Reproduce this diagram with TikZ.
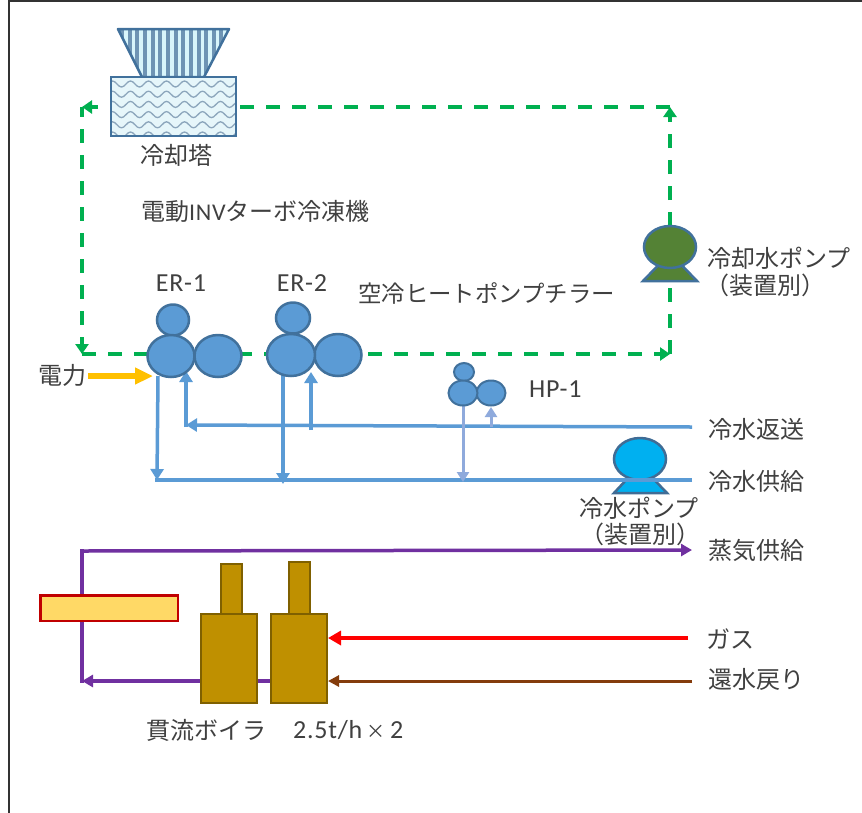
\documentclass[tikz,border=0pt]{standalone}
\usepackage{fontspec}
\setmainfont[LetterSpace=3]{Carlito}
\newfontfamily\jp{Noto Sans CJK JP}
\usetikzlibrary{arrows.meta}
\definecolor{grn}{HTML}{00B050}
\definecolor{blu}{HTML}{5B9BD5}
\definecolor{bld}{HTML}{41719C}
\definecolor{txtc}{HTML}{404040}
\definecolor{pur}{HTML}{7030A0}
\definecolor{gold}{HTML}{BF9000}
\definecolor{goldd}{HTML}{7F6000}
\definecolor{hpc}{HTML}{8FAADC}
\definecolor{grnp}{HTML}{548235}
\definecolor{cyp}{HTML}{00B0F0}
\definecolor{yel}{HTML}{FFD966}
\definecolor{dred}{HTML}{C00000}
\definecolor{amber}{HTML}{FFC000}
\definecolor{brn}{HTML}{843C0C}
\definecolor{fanl}{HTML}{D8F5FB}
\definecolor{fand}{HTML}{6E94B4}
\definecolor{wavel}{HTML}{E6F6FA}
\definecolor{waved}{HTML}{8CA6BC}
\tikzset{
 lab/.style={inner sep=0pt,text=txtc,font=\fontsize{24}{26}\selectfont\jp},
 labl/.style={lab,anchor=west},
 latin/.style={inner sep=0pt,text=txtc,font=\fontsize{26}{28}\selectfont\rmfamily},
 machine/.style={fill=blu,draw=bld,line width=2.5pt},
 boiler/.style={fill=gold,draw=goldd,line width=2.5pt},
 cw/.style={draw=grn,line width=4pt,dash pattern=on 14pt off 12pt,-{Triangle[length=10pt,width=13pt]}},
 chw/.style={draw=blu,line width=3.5pt,-{Triangle[length=11pt,width=13pt]}},
 chwp/.style={draw=blu,line width=4pt},
 hpl/.style={draw=hpc,line width=3pt,-{Triangle[length=10pt,width=12pt]}},
 steam/.style={draw=pur,line width=3.5pt,-{Triangle[length=11pt,width=12pt]}},
}
\begin{document}
\begin{tikzpicture}[x=1pt,y=-1pt]
\useasboundingbox (0,0) rectangle (862,812);
\fill[white] (0,0) rectangle (862,812);
\draw[line width=2.5pt,black!80] (9,813) -- (9,0.8) -- (863,0.8);

% green loop
\coordinate (cTL) at (82,107);
\coordinate (cTR) at (670,107);
\coordinate (cBL) at (82,354);
\coordinate (cBR) at (670,354);
\draw[cw] (cTR) -- (cTL);
\draw[cw,dash phase=4pt] (cTL) -- (cBL);
\draw[cw] (cBL) -- (cBR);
\draw[cw,-] (cBR) -- (670,283);
\draw[cw] (670,226) -- (cTR);

% cooling tower
\begin{scope}
\clip (118,29) -- (229,29) -- (204,77) -- (142,77) -- cycle;
\fill[fanl] (118,29) rectangle (229,77);
\foreach \i in {0,...,14}{\fill[fand] ({120+\i*7.65},29) rectangle ({124+\i*7.65},77);}
\end{scope}
\draw[bld,line width=2.5pt,line join=round] (118,29) -- (229,29) -- (204,77) -- (142,77) -- cycle;
\fill[white] (111,77) rectangle (236,136);
\begin{scope}
\clip (111,77) rectangle (236,136);
\fill[wavel] (111,77) rectangle (236,136);
\foreach \r in {0,...,5}{
  \draw[waved,line width=1.3pt] (108,{84+\r*10.2})
   \foreach \k in {0,...,7}{ .. controls +(3.4,-4) and +(-3.4,-4) .. ++(9,0) .. controls +(3.4,4) and +(-3.4,4) .. ++(9,0)};
}
\end{scope}
\draw[bld,line width=2.5pt] (111,77) rectangle (236,136);

% cooling water pump
\draw[fill=grnp,draw=bld,line width=2.5pt] (643,281) -- (697,281) -- (670,253) -- cycle;
\draw[fill=grnp,draw=bld,line width=2.5pt] (670,247) ellipse [x radius=26,y radius=21];

% chilled water lines
\coordinate (rtnR) at (692,427);
\coordinate (rtnL) at (186,425);
\coordinate (supR) at (692,480);
\coordinate (supL) at (155,480);

% chilled water pump
\draw[fill=cyp,draw=blu!70!black,line width=2.5pt] (614,493) -- (667,493) -- (640,465) -- cycle;
\draw[fill=cyp,draw=blu!70!black,line width=2.5pt] (640,459) ellipse [x radius=26,y radius=21];

\draw[chw] (rtnR) -- (rtnL);
\draw[chw] (186,427) -- (186,371);
\draw[chw] (311,430) -- (311,372);
\draw[chwp] (supR) -- (supL);
\draw[chw] (158,376) -- (157,480);
\draw[chw] (283,375) -- (283,484);
\draw[hpl] (463,405) -- (463,482);
\draw[hpl] (491,427) -- (491,407);

% chillers
\draw[machine] (173,320) ellipse [x radius=16,y radius=15.5];
\draw[machine] (218,356) ellipse [x radius=23.5,y radius=21];
\draw[machine] (171,356) ellipse [x radius=23.5,y radius=21];
\draw[machine] (293,318) ellipse [x radius=17,y radius=15.5];
\draw[machine] (338,355) ellipse [x radius=23.5,y radius=21];
\draw[machine] (291,355) ellipse [x radius=24,y radius=21];
\draw[machine,line width=2pt] (464,372) ellipse [x radius=10,y radius=9];
\draw[machine,line width=2pt] (491,393) ellipse [x radius=14.5,y radius=12.5];
\draw[machine,line width=2pt] (463,393) ellipse [x radius=14.5,y radius=12.5];

% power
\draw[draw=amber,line width=5.5pt,-{Triangle[length=18pt,width=16pt]}] (88,376) -- (153,376);

% steam system
\coordinate (stTR) at (692,550);
\coordinate (stTL) at (82,551);
\coordinate (stBL) at (82,681);
\coordinate (stBR) at (272,681);
\draw[steam] (stBR) -- (stBL);
\draw[steam,line cap=rect,-] (stBL) -- (stTL);
\draw[steam] (stTL) -- (stTR);
\draw[fill=yel,draw=dred,line width=2.5pt] (40.5,595.5) rectangle (178,621);

% boilers
\draw[boiler] (221,564) rectangle (242,614);
\draw[boiler] (201,614) rectangle (257,703);
\draw[boiler] (289,562) rectangle (310,614);
\draw[boiler] (271,614) rectangle (327,703);

\draw[draw=red,line width=4.5pt,-{Triangle[length=13pt,width=14pt]}] (688,638) -- (328,638);
\draw[draw=brn,line width=3pt,-{Triangle[length=11pt,width=11pt]}] (692,681) -- (328,681);

% labels
\node[lab] (t1) at (176,155) {冷却塔};
\node[labl] (t2) at (141,211) {電動{\rmfamily\fontsize{24}{26}\selectfont INV}ターボ冷凍機};
\node[latin] (t3) at (181,283) {ER-1};
\node[latin] (t4) at (302,283) {ER-2};
\node[labl,font=\fontsize{23.4}{26}\selectfont\jp] (t5) at (358,293) {空冷ヒートポンプチラー};
\node[labl] (t6) at (707,258) {冷却水ポンプ};
\node[labl] (t7) at (705,285) {（装置別）};
\node[labl] (t8) at (38,375) {電力};
\node[latin,anchor=west] (t9) at (529,389) {HP-1};
\node[labl] (t10) at (708,429) {冷水返送};
\node[labl] (t11) at (708,481) {冷水供給};
\node[labl] (t12) at (579,508) {冷水ポンプ};
\node[labl] (t13) at (580,534) {（装置別）};
\node[labl] (t14) at (708,550) {蒸気供給};
\node[labl] (t15) at (706,639) {ガス};
\node[labl] (t16) at (708,679) {還水戻り};
\node[labl] (t17) at (146,730) {貫流ボイラ};
\node[latin,anchor=west] (t18) at (293,730) {2.5t/h\,{\jp\fontsize{19}{20}\selectfont ×}\,2};
\end{tikzpicture}
\end{document}
